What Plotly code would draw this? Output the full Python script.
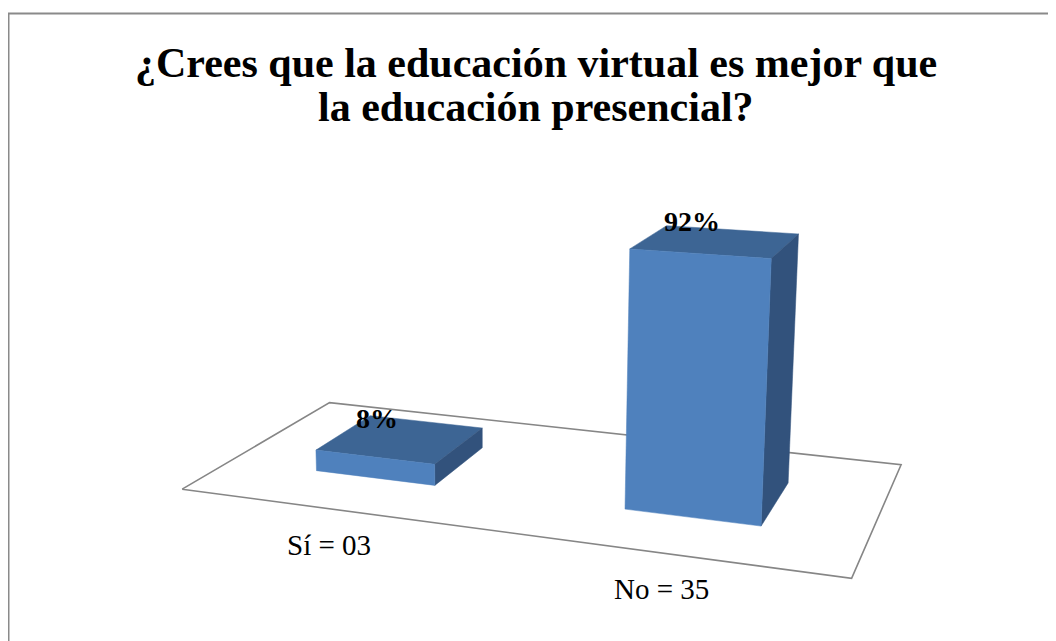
import numpy as np
import plotly.graph_objects as go

# ---------------- data ----------------
categories = ["Sí = 03", "No = 35"]
counts = [3, 35]
percentages = [8, 92]
pct_labels = ["8%", "92%"]
title_lines = ["¿Crees que la educación virtual es mejor que", "la educación presencial?"]

# ---------------- 3D scene / camera ----------------
FLOOR_W = len(categories)      # one unit per category
FLOOR_D = 1.0
BAR_W = 0.4                    # fraction of a category slot
BAR_D = 0.4
Z_PER_100 = 0.838              # height of 100 %

CAM_POS = np.array([2.554, -4.092, 1.641])
YAW = np.radians(20.58)
PITCH = np.radians(13.01)
FOCAL = 1650.0
PRINCIPAL = (498.0, 312.0)
W_PX, H_PX = 1056, 641
PAGE_OFFSET = 8                # body margin of the html page

fwd = np.array([-np.sin(YAW) * np.cos(PITCH), np.cos(YAW) * np.cos(PITCH), -np.sin(PITCH)])
right = np.array([np.cos(YAW), np.sin(YAW), 0.0])
up = np.cross(right, fwd)


def project(p):
    d = np.asarray(p, float) - CAM_POS
    cx, cy, cz = d @ right, d @ up, d @ fwd
    return PRINCIPAL[0] + FOCAL * cx / cz, PRINCIPAL[1] - FOCAL * cy / cz


def poly(points, fill, line_color=None, line_width=0):
    xs, ys = zip(*[project(p) for p in points])
    xs = list(xs) + [xs[0]]
    ys = list(ys) + [ys[0]]
    return go.Scatter(x=xs, y=ys, mode="lines", fill="toself", fillcolor=fill,
                      line=dict(color=line_color or fill, width=line_width),
                      hoverinfo="skip", showlegend=False)


fig = go.Figure()

# floor
fig.add_trace(poly([(0, 0, 0), (FLOOR_W, 0, 0), (FLOOR_W, FLOOR_D, 0), (0, FLOOR_D, 0)],
                   "white", "#868686", 1.6))

FRONT = "#4F81BD"
TOP = "#3D6594"
SIDE = "#32527C"

annotations = []
for i, (cat, pct, lab) in enumerate(zip(categories, percentages, pct_labels)):
    xc = i + 0.5
    x0, x1 = xc - BAR_W / 2, xc + BAR_W / 2
    y0, y1 = FLOOR_D / 2 - BAR_D / 2, FLOOR_D / 2 + BAR_D / 2
    h = pct / 100 * Z_PER_100
    fig.add_trace(poly([(x0, y0, h), (x1, y0, h), (x1, y1, h), (x0, y1, h)], TOP, TOP, 0.5))
    fig.add_trace(poly([(x1, y0, 0), (x1, y1, 0), (x1, y1, h), (x1, y0, h)], SIDE, SIDE, 0.5))
    fig.add_trace(poly([(x0, y0, 0), (x1, y0, 0), (x1, y0, h), (x0, y0, h)], FRONT, FRONT, 0.5))

    tx, ty = project((xc, FLOOR_D / 2, h))
    annotations.append(dict(x=tx, y=ty, xref="x", yref="y", text=lab, showarrow=False,
                            xshift=-24, yshift=20, xanchor="center", yanchor="middle",
                            font=dict(family="Liberation Serif", size=28, color="black",
                                      weight="bold")))
    cx_, cy_ = project((xc, 0, 0))
    annotations.append(dict(x=cx_, y=cy_, xref="x", yref="y", text=cat, showarrow=False,
                            xshift=-3, yshift=-36, xanchor="center", yanchor="middle",
                            font=dict(family="Liberation Serif", size=29, color="black")))

title_y = [63, 107]
for line, ty in zip(title_lines, title_y):
    annotations.append(dict(x=536, y=ty, xref="x", yref="y", text=line, showarrow=False,
                            xanchor="center", yanchor="middle",
                            font=dict(family="Liberation Serif", size=42, color="black",
                                      weight="bold")))

fig.update_layout(
    width=W_PX, height=H_PX,
    margin=dict(l=0, r=0, t=0, b=0),
    paper_bgcolor="white", plot_bgcolor="white",
    xaxis=dict(range=[PAGE_OFFSET, W_PX + PAGE_OFFSET], visible=False, fixedrange=True),
    yaxis=dict(range=[H_PX + PAGE_OFFSET, PAGE_OFFSET], visible=False, fixedrange=True),
    annotations=annotations,
    shapes=[dict(type="rect", xref="x", yref="y", x0=8.5, y0=13.5, x1=W_PX + 60, y1=H_PX + 60,
                 line=dict(color="#8A8A8A", width=2), fillcolor="rgba(0,0,0,0)", layer="below")],
    showlegend=False,
)

fig.write_html("out.html")
